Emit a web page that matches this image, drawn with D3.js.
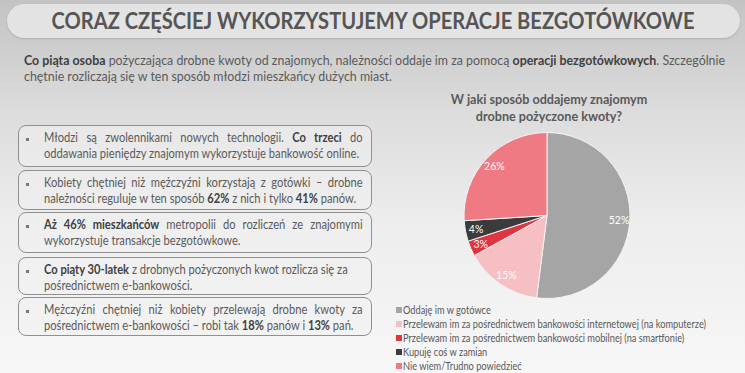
<!DOCTYPE html>
<meta charset="utf-8">
<script src="https://d3js.org/d3.v7.min.js"></script>
<style>
  body { margin: 0; }
  #page {
    position: relative; width: 745px; height: 373px; overflow: hidden;
    background: linear-gradient(#c3c3c3 0%, #dcdcdc 30%, #ededed 60%, #f7f7f7 100%);
    font-family: Lato, "Open Sans", sans-serif; color: #5a5a5a;
  }
  .abs { position: absolute; }
  .title {
    left: 7px; top: 4px; width: 733px; height: 34px; border-radius: 17px;
    background: #e3e3e3; box-shadow: 0 1px 2px rgba(0,0,0,0.15);
  }
  .intro { left: 24px; top: 53px; font-size: 12.4px; line-height: 16px; white-space: nowrap; }
  .box {
    left: 18px; width: 352px; border: 1px solid #909090; border-radius: 8px;
    background: rgba(240,240,240,0.55);
  }
  .box .bul { position: absolute; left: 7px; top: 12px; width: 3px; height: 3px; background: #777; }
  .box .txt {
    position: absolute; left: 25px; top: 4px; width: 354px; font-size: 12.4px; line-height: 16px;
    transform: scaleX(0.9); transform-origin: 0 0;
  }
  .line { white-space: nowrap; }
  .line.just { text-align: justify; text-align-last: justify; white-space: normal; }
  b { color: #404040; }
</style>
<div id="page"></div>
<script>

var pageTitle = "CORAZ CZĘŚCIEJ WYKORZYSTUJEMY OPERACJE BEZGOTÓWKOWE"
var intro = [
  [["Co piąta osoba", 1], [" pożyczająca drobne kwoty od znajomych, należności oddaje im za pomocą ", 0],
   ["operacji bezgotówkowych", 1], [". Szczególnie", 0]],
  [["chętnie rozliczają się w ten sposób młodzi mieszkańcy dużych miast.", 0]]
]

// each bullet: lines of [text, bold] pieces
var bullets = [
  [[["Młodzi są zwolennikami nowych technologii. ", 0], ["Co trzeci", 1], [" do", 0]],
   [["oddawania pieniędzy znajomym wykorzystuje bankowość online.", 0]]],
  [[["Kobiety chętniej niż mężczyźni korzystają z gotówki – drobne", 0]],
   [["należności reguluje w ten sposób ", 0], ["62%", 1], [" z nich i tylko ", 0], ["41%", 1], [" panów.", 0]]],
  [[["Aż 46% mieszkańców", 1], [" metropolii do rozliczeń ze znajomymi", 0]],
   [["wykorzystuje transakcje bezgotówkowe.", 0]]],
  [[["Co piąty 30-latek", 1], [" z drobnych pożyczonych kwot rozlicza się za", 0]],
   [["pośrednictwem e-bankowości.", 0]]],
  [[["Mężczyźni chętniej niż kobiety przelewają drobne kwoty za", 0]],
   [["pośrednictwem e-bankowości – robi tak ", 0], ["18%", 1], [" panów i ", 0], ["13%", 1], [" pań.", 0]]]
]
var justified = [true, true, true, false, true]
var boxTops = [125, 170, 212, 257, 297]
var boxHeights = [40, 38, 39, 36, 37]

var chartTitle = ["W jaki sposób oddajemy znajomym", "drobne pożyczone kwoty?"]
var categories = ["Oddaję im w gotówce",
  "Przelewam im za pośrednictwem bankowości internetowej (na komputerze)",
  "Przelewam im za pośrednictwem bankowości mobilnej (na smartfonie)",
  "Kupuję coś w zamian",
  "Nie wiem/Trudno powiedzieć"]
var values = [52, 15, 3, 4, 26]
var colors = ["#a5a5a5", "#f5bfc4", "#e13441", "#3b3b3b", "#ef7a84"]

var page = d3.select("#page")

// title pill
page.append("div").attr("class", "abs title")
var svg = page.append("svg").attr("class", "abs")
  .attr("width", 745).attr("height", 373).style("left", 0).style("top", 0)

svg.append("text")
  .attr("x", 373).attr("y", 29)
  .attr("text-anchor", "middle")
  .attr("textLength", 643).attr("lengthAdjust", "spacingAndGlyphs")
  .style("font-family", "Lato, sans-serif").style("font-weight", 700)
  .style("font-size", "22px").style("fill", "#555")
  .text(pageTitle)

function rich(sel, parts) {
  sel.selectAll("span").data(parts).enter().append(function(d) {
    return document.createElement(d[1] ? "b" : "span")
  }).text(function(d) { return d[0] })
}

var introBox = page.append("div").attr("class", "abs intro")
introBox.selectAll("div").data(intro).enter().append("div").attr("class", "line")
  .each(function(d) { rich(d3.select(this), d) })

var boxes = page.selectAll("div.box").data(bullets).enter()
  .append("div").attr("class", "abs box")
  .style("top", function(d, i) { return boxTops[i] + "px" })
  .style("height", function(d, i) { return boxHeights[i] + "px" })
boxes.append("div").attr("class", "bul")
boxes.append("div").attr("class", "txt")
  .each(function(d, bi) {
    d3.select(this).selectAll("div").data(d).enter().append("div")
      .attr("class", function(l, li) { return li === 0 && justified[bi] ? "line just" : "line" })
      .each(function(l) { rich(d3.select(this), l) })
  })

// pie chart
var cx = 547, cy = 215.5, radius = 83

var g = svg.append("g").attr("transform", "translate(" + cx + "," + cy + ")")
var pie = d3.pie().sort(null).value(function(d) { return d })
var arc = d3.arc().innerRadius(0).outerRadius(radius)
var labelArc = d3.arc().innerRadius(radius * 0.87).outerRadius(radius * 0.87)
var slices = pie(values)

g.selectAll("path").data(slices).enter().append("path")
  .attr("d", arc)
  .attr("fill", function(d, i) { return colors[i] })
  .attr("stroke", "#f4f4f4").style("stroke-width", "1px")

g.selectAll("text.lbl").data(slices).enter().append("text")
  .attr("class", "lbl")
  .attr("transform", function(d) { var c = labelArc.centroid(d); return "translate(" + c + ")" })
  .attr("text-anchor", "middle").attr("dy", "0.35em")
  .style("font-family", "Lato, sans-serif").style("font-size", "10.5px").style("fill", "#fff")
  .text(function(d) { return d.data + "%" })

svg.selectAll("text.ct").data(chartTitle).enter().append("text")
  .attr("class", "ct")
  .attr("x", 549).attr("y", function(d, i) { return 104 + i * 17 })
  .attr("text-anchor", "middle")
  .style("font-family", "Lato, sans-serif").style("font-weight", 700)
  .style("font-size", "12.6px").style("fill", "#595959")
  .text(function(d) { return d })

var legend = svg.selectAll("g.leg").data(categories).enter().append("g")
  .attr("class", "leg")
  .attr("transform", function(d, i) { return "translate(396," + (310 + i * 14) + ")" })
legend.append("rect").attr("x", 0).attr("y", -3).attr("width", 6).attr("height", 6)
  .attr("fill", function(d, i) { return colors[i] })
legend.append("text").attr("x", 8).attr("dy", "0.35em")
  .attr("transform", "scale(0.88,1)")
  .style("font-family", "Lato, sans-serif").style("font-size", "10.5px").style("fill", "#595959")
  .text(function(d) { return d })

</script>
